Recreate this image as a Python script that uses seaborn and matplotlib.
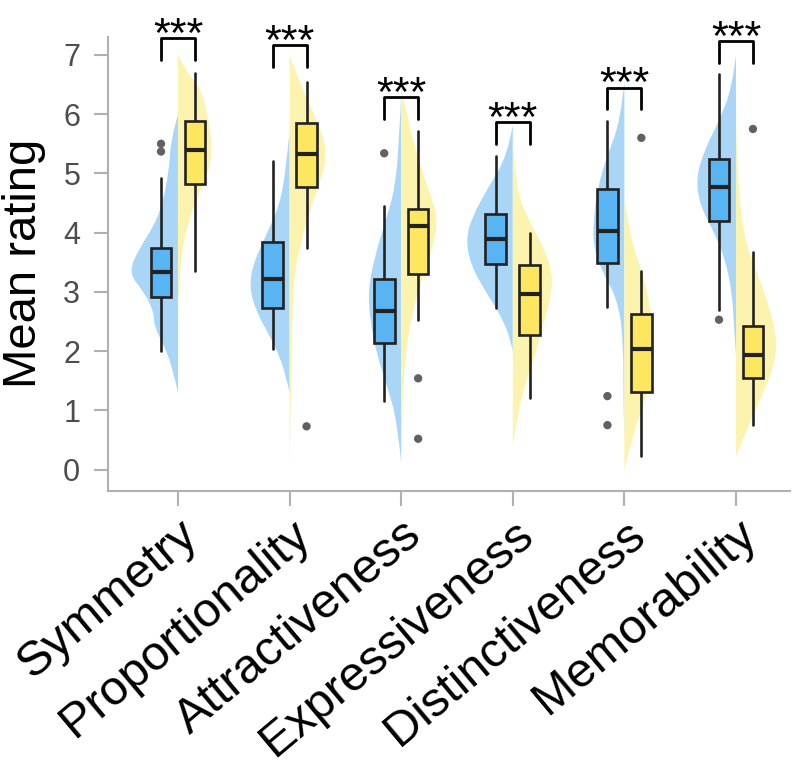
import numpy as np
import pandas as pd
import matplotlib
matplotlib.use("Agg")
import matplotlib.pyplot as plt
from matplotlib.path import Path
from matplotlib.patches import PathPatch
import seaborn as sns

# --- data ---
categories = ["Symmetry", "Proportionality", "Attractiveness",
              "Expressiveness", "Distinctiveness", "Memorability"]

# box statistics, group A (blue, left) and group B (yellow, right)
whislo_a = [2.01, 2.03, 1.15, 2.72, 2.74, 2.69]
q1_a = [2.92, 2.73, 2.13, 3.47, 3.49, 4.20]
med_a = [3.34, 3.22, 2.67, 3.90, 4.02, 4.77]
q3_a = [3.74, 3.84, 3.22, 4.32, 4.73, 5.24]
whishi_a = [4.92, 5.21, 4.45, 5.29, 5.89, 6.67]
fliers_a = [[5.50, 5.37], [], [5.34], [], [1.24, 0.75], [2.53]]

whislo_b = [3.36, 3.74, 2.53, 1.21, 0.23, 0.75]
q1_b = [4.82, 4.77, 3.31, 2.27, 1.31, 1.55]
med_b = [5.40, 5.32, 4.11, 2.97, 2.03, 1.94]
q3_b = [5.89, 5.85, 4.40, 3.46, 2.63, 2.42]
whishi_b = [6.69, 6.55, 5.71, 3.99, 3.36, 3.68]
fliers_b = [[], [0.73], [1.54, 0.52], [], [5.60], [5.75]]

# half-violin outlines: rating levels and relative density at each level
dens_y_a = [
    [5.99, 5.59, 5.03, 4.46, 4.12, 3.78, 3.33, 3.00, 2.66, 2.43, 2.09, 1.75, 1.30],
    [5.71, 5.03, 4.46, 3.90, 3.45, 3.05, 2.66, 2.32, 1.92, 1.53, 1.30],
    [6.33, 5.59, 4.75, 4.18, 3.62, 3.05, 2.49, 1.92, 1.36, 0.80, 0.12],
    [5.82, 5.31, 4.75, 4.29, 3.90, 3.45, 3.00, 2.60, 2.20, 1.98],
    [6.55, 5.88, 5.31, 4.75, 4.18, 3.78, 3.33, 2.88, 2.20, 1.07, 0.50],
    [7.00, 6.44, 5.88, 5.42, 4.92, 4.46, 4.01, 3.56, 3.00, 2.43, 1.92],
]
dens_a = [
    [0, 7, 9, 16, 24, 37, 50, 34, 24, 24, 14, 6, 0],
    [0, 4, 10, 25, 37, 40, 33, 22, 10, 3, 0],
    [0, 2, 6, 16, 26, 33, 31, 24, 13, 4, 0],
    [0, 5, 25, 40, 47, 42, 27, 12, 2, 0],
    [0, 4, 17, 27, 31, 31, 22, 7, 1, 1, 0],
    [0, 4, 17, 31, 40, 36, 22, 11, 4, 2, 0],
]
dens_y_b = [
    [7.00, 6.72, 6.44, 5.88, 5.42, 5.03, 4.58, 4.12, 3.56, 3.00, 2.78],
    [7.00, 6.44, 5.88, 5.37, 4.92, 4.46, 3.90, 3.33, 2.77, 1.92, 1.07, 0.00],
    [6.44, 5.88, 5.31, 4.75, 4.24, 3.78, 3.22, 2.66, 1.92, 1.07, 0.10],
    [5.59, 4.75, 4.24, 3.78, 3.33, 2.88, 2.43, 1.92, 1.47, 0.96, 0.40],
    [4.58, 3.90, 3.33, 2.77, 2.20, 1.64, 1.19, 0.63, 0.00],
    [6.05, 5.03, 3.90, 3.33, 2.77, 2.20, 1.81, 1.36, 0.80, 0.23],
]
dens_b = [
    [0, 8, 23, 31, 34, 31, 19, 9, 3, 1, 0],
    [0, 12, 28, 38, 32, 22, 12, 5, 3, 2, 1, 0],
    [0, 7, 16, 27, 37, 32, 21, 11, 4, 1, 0],
    [0, 3, 15, 30, 40, 38, 30, 22, 13, 5, 0],
    [0, 6, 18, 26, 29, 28, 21, 9, 0],
    [0, 1, 8, 21, 33, 41, 39, 29, 14, 0],
]

# significance brackets
bracket_top = [7.29, 7.16, 6.29, 5.86, 6.45, 7.24]
sig_labels = ["***"] * 6

# --- style ---
sns.set_theme(style="ticks")
plt.rcParams["font.family"] = ["Liberation Sans", "DejaVu Sans"]

violin_colors = ["#a9d6f7", "#fcf3ae"]
box_colors = ["#58b4f2", "#fee760"]
axis_gray = "#b0b0b0"
dark = "#222222"

fig = plt.figure(figsize=(8, 7.67), dpi=100)
ax = fig.add_axes([0.135, 0.36, 0.8525, 0.5923])

dens_scale = 1 / 111.6
offset = 0.152
box_w = 0.185


def half_violin(ax, x0, y, w, side, color):
    # smooth outline: quadratic curves through the midpoints of the read points
    pts = np.column_stack([x0 + side * np.asarray(w) * dens_scale, y])
    verts = [pts[0]]
    codes = [Path.MOVETO]
    for k in range(1, len(pts) - 1):
        end = pts[k + 1] if k == len(pts) - 2 else (pts[k] + pts[k + 1]) / 2
        verts += [pts[k], end]
        codes += [Path.CURVE3, Path.CURVE3]
    verts += [pts[0], pts[0]]
    codes += [Path.LINETO, Path.CLOSEPOLY]
    ax.add_patch(PathPatch(Path(verts, codes), facecolor=color,
                           edgecolor="none", zorder=1))


groups = [
    (dens_y_a, dens_a, whislo_a, q1_a, med_a, q3_a, whishi_a, -1),
    (dens_y_b, dens_b, whislo_b, q1_b, med_b, q3_b, whishi_b, 1),
]

for g, (dy, dd, wlo, q1, med, q3, whi, side) in enumerate(groups):
    for i in range(len(categories)):
        half_violin(ax, i, dy[i], dd[i], side, violin_colors[g])
        stats = [dict(whislo=wlo[i], q1=q1[i], med=med[i], q3=q3[i],
                      whishi=whi[i], fliers=[])]
        ax.bxp(stats, positions=[i + side * offset], widths=box_w,
               patch_artist=True, showcaps=False, showfliers=False,
               manage_ticks=False,
               boxprops=dict(facecolor=box_colors[g], edgecolor=dark,
                             linewidth=1.9, zorder=3),
               medianprops=dict(color=dark, linewidth=3.0,
                                solid_capstyle="butt", zorder=3),
               whiskerprops=dict(color=dark, linewidth=1.9, zorder=2))

# outliers
rows = []
for i in range(len(categories)):
    for v in fliers_a[i]:
        rows.append((i - offset, v))
    for v in fliers_b[i]:
        rows.append((i + offset, v))
outliers = pd.DataFrame(rows, columns=["x", "rating"])
sns.scatterplot(data=outliers, x="x", y="rating", color="#505050", alpha=0.9,
                s=36, edgecolor="none", ax=ax, zorder=4)

# brackets and stars
for i, top in enumerate(bracket_top):
    xs = [i - offset, i - offset, i + offset, i + offset]
    ys = [top - 0.37, top, top, top - 0.37]
    ax.plot(xs, ys, color="black", linewidth=2.0, solid_joinstyle="round",
            solid_capstyle="round", zorder=5)
    ax.text(i, top - 0.15, sig_labels[i], ha="center", va="baseline",
            fontsize=31, color="black")

# axes
ax.set_xlim(-0.627, 5.484)
ax.set_ylim(-0.36, 7.31)
ax.set_yticks(range(0, 8))
ax.set_xticks(range(len(categories)))
ax.set_xticklabels(categories, rotation=40, ha="right", va="top",
                   rotation_mode="anchor", fontsize=35, color="black")
ax.tick_params(axis="y", labelsize=22, labelcolor="#4d4d4d", length=10,
               width=1.5, color=axis_gray, pad=10)
ax.tick_params(axis="x", length=11, width=1.5, color=axis_gray, pad=4)
ax.set_xlabel("")
ax.set_ylabel("Mean rating", fontsize=34, color="black", labelpad=12)
for side in ["left", "bottom"]:
    ax.spines[side].set_color(axis_gray)
    ax.spines[side].set_linewidth(1.5)
sns.despine(ax=ax)
ax.grid(False)

fig.savefig("out.png", dpi=100)
